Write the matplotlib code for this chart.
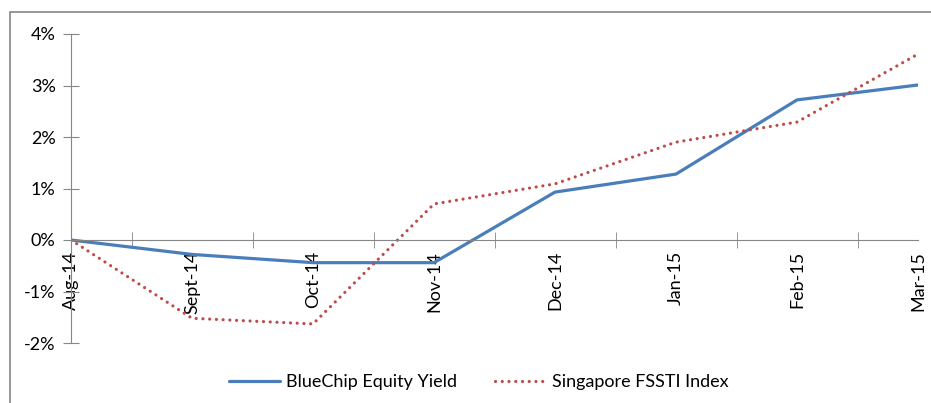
import matplotlib.pyplot as plt
from matplotlib.patches import Rectangle
from matplotlib.ticker import FixedLocator, FuncFormatter

months = ['Aug-14', 'Sept-14', 'Oct-14', 'Nov-14', 'Dec-14', 'Jan-15', 'Feb-15', 'Mar-15']
bluechip = [0.0, -0.28, -0.44, -0.44, 0.93, 1.28, 2.72, 3.01]
fssti = [0.0, -1.52, -1.63, 0.70, 1.09, 1.90, 2.29, 3.61]

plt.rcParams['font.family'] = ['Lato', 'DejaVu Sans']
grey = '#868686'

fig = plt.figure(figsize=(9.31, 4.03), dpi=100)
ax = fig.add_axes([71 / 931, 1 - 343 / 403, (918 - 71) / 931, (343 - 34) / 403])

x = list(range(len(months)))
ax.plot(x, bluechip, color='#4A7EBB', lw=2.3, label='BlueChip Equity Yield',
        solid_capstyle='round', solid_joinstyle='round')
ax.plot(x, fssti, color='#BE4B48', lw=2.3, linestyle=(0, (0.01, 2.1)),
        dash_capstyle='round', label='Singapore FSSTI Index')

ax.set_xlim(0, len(months) - 1)
ax.set_ylim(-2, 4)

for s in ['top', 'right']:
    ax.spines[s].set_visible(False)
ax.spines['bottom'].set_position(('data', 0))
ax.spines['left'].set_color(grey)
ax.spines['bottom'].set_color(grey)

ax.set_yticks(range(-2, 5))
ax.yaxis.set_major_formatter(FuncFormatter(lambda v, p: f'{v:.0f}%'))
ax.tick_params(axis='y', direction='inout', length=12, color=grey, labelsize=13, pad=5)

ax.set_xticks(x)
ax.set_xticklabels(months, rotation=90, fontsize=13, va='top', ha='center')
ax.tick_params(axis='x', which='major', length=0, pad=8)
ax.xaxis.set_minor_locator(FixedLocator([i + 0.5 for i in x[:-1]] + [x[-1]]))
ax.tick_params(axis='x', which='minor', direction='inout', length=11, color=grey)

fig.legend(loc='center', bbox_to_anchor=(479 / 931, 1 - 382 / 403), ncol=2, frameon=False,
           fontsize=13, handlelength=2.8, columnspacing=2.1, handletextpad=0.35)

fig.patches.append(Rectangle((10 / 931, -0.1), 1.2, 1 - 12 / 403 + 0.1, transform=fig.transFigure,
                             fill=False, edgecolor=grey, lw=1.2))

fig.savefig('out.png', dpi=100)
